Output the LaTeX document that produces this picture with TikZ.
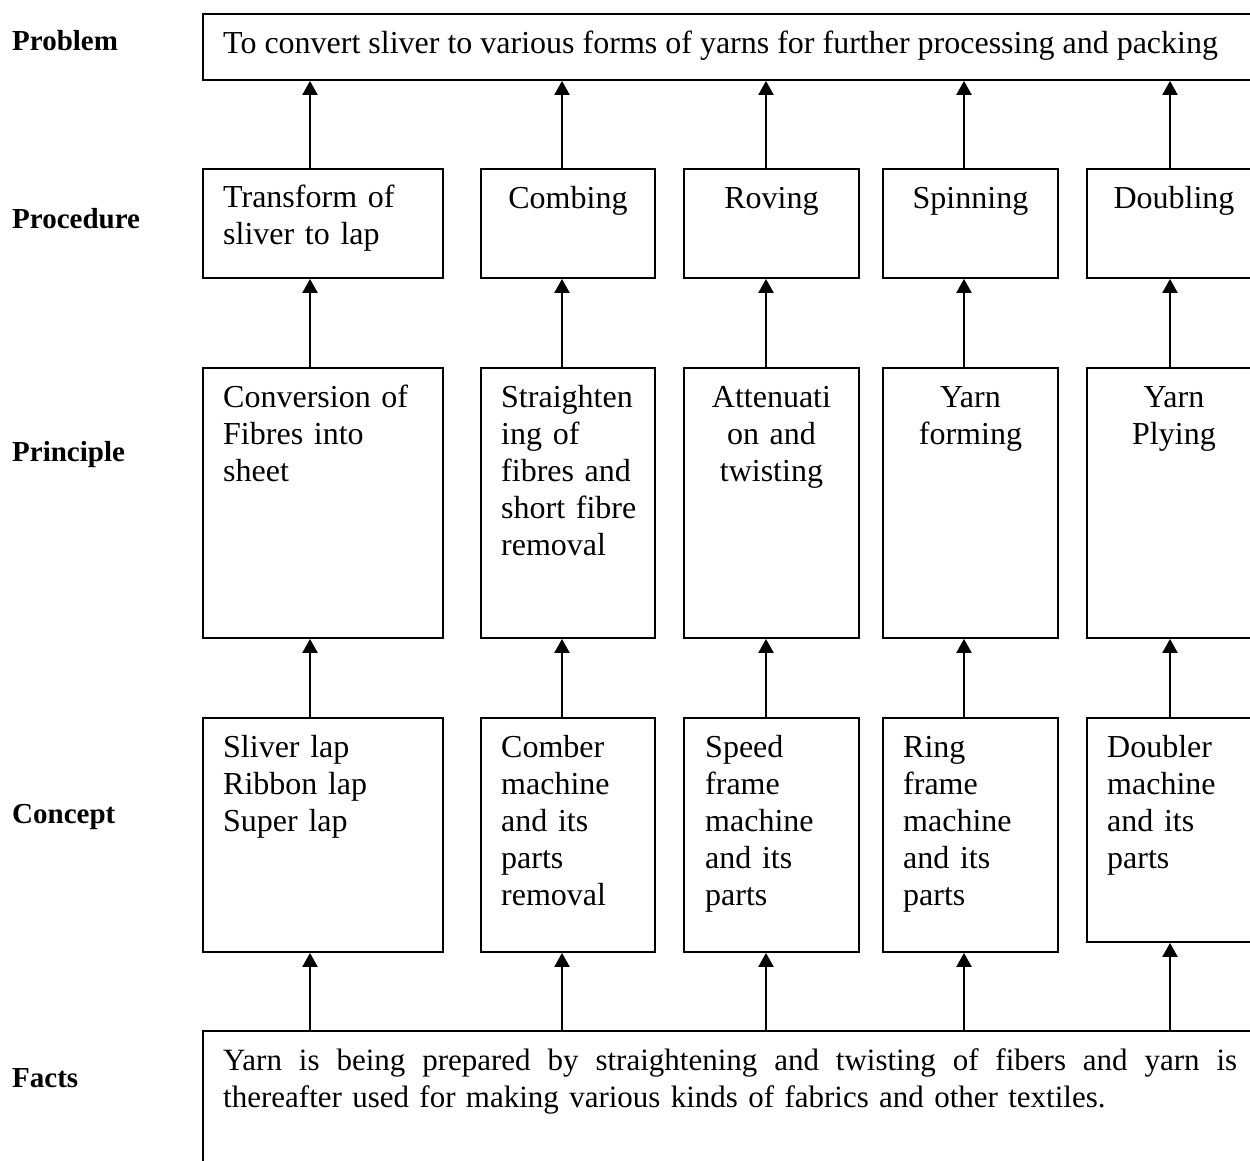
\documentclass[tikz,border=0pt]{standalone}
\usepackage{fontspec}
\setmainfont{Liberation Serif}
\usetikzlibrary{arrows.meta}
\newcommand{\bodyfont}{\fontsize{32}{37}\selectfont}
\newcommand{\factfont}{\fontsize{31}{37}\selectfont}
\newcommand{\headfont}{\fontsize{29}{35}\selectfont\bfseries}

\begin{document}
\begin{tikzpicture}[x=1pt, y=-1pt]
        \tikzstyle{box} = [draw, line width=1.9pt, anchor=north west, inner sep=0pt]
        \tikzstyle{txtl} = [anchor=base west, inner sep=0pt, font=\bodyfont, align=left, text width=230pt]
        \tikzstyle{txtc} = [anchor=base, inner sep=0pt, font=\bodyfont, align=center, text width=175pt]
        \tikzstyle{head} = [anchor=base west, inner sep=0pt, font=\headfont]
        \tikzstyle{arr} = [line width=2.2pt, -{Triangle[length=14pt, width=15pt]}]

        \useasboundingbox (0,0) rectangle (1250,1160);
        \clip (0,0) rectangle (1250,1160);

        % Etiquetas de los niveles
        \node[head] (lprob) at (12,50) {Problem};
        \node[head] (lproc) at (12,228) {Procedure};
        \node[head] (lpri) at (12,461) {Principle};
        \node[head] (lcon) at (12,823) {Concept};
        \node[head] (lfact) at (12,1087) {Facts};

        % Problema
        \node[box, minimum width=1100pt, minimum height=66pt] (prob) at (202,13) {};
        \node[anchor=base west, inner sep=0pt, font=\bodyfont] (tprob) at ([shift={(21,40)}]prob.north west)
            {To convert sliver to various forms of yarns for further processing and packing};

        % Procedimientos
        \node[box, minimum width=240pt, minimum height=109pt] (proc1) at (202,168) {};
        \node[box, minimum width=174pt, minimum height=109pt] (proc2) at (480,168) {};
        \node[box, minimum width=175pt, minimum height=109pt] (proc3) at (683,168) {};
        \node[box, minimum width=175pt, minimum height=109pt] (proc4) at (882,168) {};
        \node[box, minimum width=174pt, minimum height=109pt] (proc5) at (1086,168) {};
        \node[txtl] (tproc1) at ([shift={(21,39)}]proc1.north west) {Transform of\\sliver to lap};
        \node[txtc] (tproc2) at ([shift={(0,40)}]proc2.north) {Combing};
        \node[txtc] (tproc3) at ([shift={(0,40)}]proc3.north) {Roving};
        \node[txtc] (tproc4) at ([shift={(0,40)}]proc4.north) {Spinning};
        \node[txtc] (tproc5) at ([shift={(0,40)}]proc5.north) {Doubling};

        % Principios
        \node[box, minimum width=240pt, minimum height=270pt] (pri1) at (202,367) {};
        \node[box, minimum width=174pt, minimum height=270pt] (pri2) at (480,367) {};
        \node[box, minimum width=175pt, minimum height=270pt] (pri3) at (683,367) {};
        \node[box, minimum width=175pt, minimum height=270pt] (pri4) at (882,367) {};
        \node[box, minimum width=174pt, minimum height=270pt] (pri5) at (1086,367) {};
        \node[txtl] (tpri1) at ([shift={(21,40)}]pri1.north west) {Conversion of\\Fibres into\\sheet};
        \node[txtl] (tpri2) at ([shift={(21,40)}]pri2.north west) {Straighten\\ing of\\fibres and\\short fibre\\removal};
        \node[txtc] (tpri3) at ([shift={(0,40)}]pri3.north) {Attenuati\\on and\\twisting};
        \node[txtc] (tpri4) at ([shift={(0,40)}]pri4.north) {Yarn\\forming};
        \node[txtc] (tpri5) at ([shift={(0,40)}]pri5.north) {Yarn\\Plying};

        % Conceptos
        \node[box, minimum width=240pt, minimum height=234pt] (con1) at (202,717) {};
        \node[box, minimum width=174pt, minimum height=234pt] (con2) at (480,717) {};
        \node[box, minimum width=175pt, minimum height=234pt] (con3) at (683,717) {};
        \node[box, minimum width=175pt, minimum height=234pt] (con4) at (882,717) {};
        \node[box, minimum width=174pt, minimum height=224pt] (con5) at (1086,717) {};
        \node[txtl] (tcon1) at ([shift={(21,40)}]con1.north west) {Sliver lap\\Ribbon lap\\Super lap};
        \node[txtl] (tcon2) at ([shift={(21,40)}]con2.north west) {Comber\\machine\\and its\\parts\\removal};
        \node[txtl] (tcon3) at ([shift={(22,40)}]con3.north west) {Speed\\frame\\machine\\and its\\parts};
        \node[txtl] (tcon4) at ([shift={(21,40)}]con4.north west) {Ring\\frame\\machine\\and its\\parts};
        \node[txtl] (tcon5) at ([shift={(21,40)}]con5.north west) {Doubler\\machine\\and its\\parts};

        % Hechos
        \node[box, minimum width=1100pt, minimum height=200pt] (facts) at (202,1030) {};
        \node[txtl, font=\factfont, text width=1020pt] (tfacts) at ([shift={(21,40)}]facts.north west)
            {\hbox to 1014pt{Yarn\hfill is\hfill being\hfill prepared\hfill by\hfill straightening\hfill and\hfill twisting\hfill of\hfill fibers\hfill and\hfill yarn\hfill is}\\
             thereafter used for making various kinds of fabrics and other textiles.};

        % Posiciones de las flechas
        \coordinate (ax1) at (310,0);
        \coordinate (ax2) at (562,0);
        \coordinate (ax3) at (766,0);
        \coordinate (ax4) at (964,0);
        \coordinate (ax5) at (1170,0);

        % Enlaces entre niveles
        \foreach \i in {1,...,5} {
            \draw[arr] (proc\i.north -| ax\i) -- (prob.south -| ax\i);
            \draw[arr] (pri\i.north -| ax\i) -- (proc\i.south -| ax\i);
            \draw[arr] (con\i.north -| ax\i) -- (pri\i.south -| ax\i);
            \draw[arr] (facts.north -| ax\i) -- (con\i.south -| ax\i);
        }
    \end{tikzpicture}
\end{document}
